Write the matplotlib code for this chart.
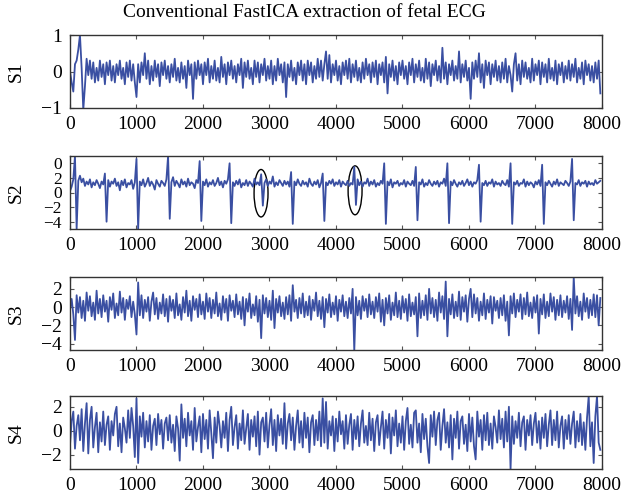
import numpy as np
import matplotlib
matplotlib.use('Agg')
import matplotlib.pyplot as plt
from matplotlib.patches import Ellipse

plt.rcParams['font.family'] = ['Liberation Serif', 'DejaVu Serif']
plt.rcParams['font.size'] = 14

title = 'Conventional FastICA extraction of fetal ECG'
labels = ['S1', 'S2', 'S3', 'S4']
step = 25  # samples between the values

s1 = [
    0.0, -0.3, -0.55, 0.2, 0.3, 0.6, 1.0, 0.1, -1.05, -0.4, 0.35, -0.1, 0.3, -0.2, 0.25, -0.3, 0.1, -0.25, 0.3, -0.15,
    0.2, -0.35, 0.25, -0.1, 0.3, -0.25, 0.15, -0.3, 0.2, -0.1, 0.3, -0.2, 0.1, -0.35, 0.25, -0.15, 0.3, -0.25, 0.2, -0.3,
    -0.7, 0.2, -0.3, 0.25, -0.1, 0.5, -0.2, 0.3, -0.35, 0.15, -0.25, 0.3, -0.15, 0.2, -0.4, 0.25, -0.1, 0.3, -0.2, 0.15,
    -0.3, 0.2, -0.15, 0.35, -0.25, 0.1, -0.3, 0.25, -0.2, 0.15, -0.45, 0.3, -0.1, 0.2, -0.75, 0.25, -0.2, 0.3, -0.1, 0.2,
    -0.35, 0.25, -0.1, 0.35, -0.3, 0.15, -0.2, 0.3, -0.25, 0.1, -0.3, 0.4, -0.15, 0.2, -0.35, 0.25, -0.1, 0.3, -0.2, 0.15,
    -0.3, 0.2, -0.1, 0.35, -0.45, 0.25, -0.15, 0.3, -0.2, 0.1, -0.35, 0.3, -0.15, 0.25, -0.3, 0.2, -0.1, 0.35, -0.25, 0.15,
    -0.2, 0.3, -0.35, 0.15, -0.25, 0.35, -0.1, 0.2, -0.3, 0.25, -0.7, 0.2, -0.15, 0.3, -0.25, 0.1, -0.35, 0.25, -0.1, 0.3,
    -0.25, 0.2, -0.35, 0.3, -0.1, 0.25, -0.3, 0.15, -0.2, 0.35, -0.15, 0.3, -0.25, 0.2, 0.55, -0.2, 0.45, -0.3, 0.2, -0.1,
    0.3, -0.25, 0.15, -0.35, 0.25, -0.1, 0.3, -0.2, 0.35, -0.3, 0.2, -0.15, 0.3, -0.25, 0.1, -0.3, 0.25, -0.2, 0.35, -0.1,
    0.2, -0.3, 0.25, -0.15, 0.3, -0.35, 0.2, -0.1, 0.25, -0.3, 0.4, -0.6, 0.2, -0.15, 0.3, -0.25, 0.15, -0.35, 0.25, -0.1,
    0.3, -0.2, 0.15, -0.35, 0.25, -0.1, 0.35, -0.3, 0.2, -0.15, 0.3, -0.25, 0.1, -0.3, 0.35, -0.2, 0.25, -0.4, 0.2, -0.1,
    0.3, -0.25, 0.15, -0.3, 0.65, -0.2, 0.25, -0.35, 0.2, -0.1, 0.3, -0.25, 0.15, -0.2, 0.55, -0.3, 0.2, -0.15, 0.3, -0.25,
    0.1, -0.75, 0.25, -0.2, 0.3, -0.15, 0.5, -0.3, 0.2, -0.45, 0.3, -0.1, 0.25, -0.35, 0.2, -0.15, 0.3, -0.25, 0.15, -0.3,
    0.25, -0.2, 0.35, -0.3, 0.15, -0.1, -0.55, 0.2, 0.5, -0.25, 0.2, -0.35, 0.3, -0.15, 0.25, -0.2, 0.1, -0.3, 0.35, -0.25,
    0.2, -0.1, 0.3, -0.35, 0.25, -0.15, 0.2, -0.3, 0.35, -0.2, 0.1, -0.25, 0.3, -0.35, 0.2, -0.1, 0.25, -0.3, 0.15, -0.2,
    0.3, -0.25, 0.2, -0.15, 0.35, -0.3, 0.1, -0.2, 0.25, -0.35, 0.3, -0.1, 0.2, -0.25, 0.15, -0.3, 0.25, -0.2, 0.3, -0.6,
]

s2 = [
    0.2, 0.8, 1.8, 5.0, -5.0, 1.6, 2.3, 1.4, 1.9, 0.9, 1.5, 1.1, 1.8, 0.7, 1.4, 1.0, 1.7, 1.2, 0.6, 1.5,
    1.1, 2.6, -4.0, 1.7, 0.8, 1.5, 1.2, 1.9, 0.9, 1.4, 0.3, 1.6, 1.0, 1.8, 0.7, 1.3, 1.1, 1.7, 0.5, 1.4,
    4.6, -5.0, 1.5, 1.0, 1.8, 0.8, 1.3, 2.0, 0.9, 1.5, 1.1, 0.4, 1.7, 1.2, 0.8, 1.6, 1.3, 0.9, 1.8, 5.0,
    -3.6, 1.4, 2.1, 0.9, 1.6, 1.2, 0.7, 1.8, 1.1, 1.5, 0.8, 1.9, 1.0, 1.4, 1.2, 0.6, 1.7, 1.3, 4.3, -3.9,
    1.5, 1.0, 1.8, 0.8, 1.4, 1.1, 1.7, 0.9, 1.3, 2.0, 1.0, 1.5, 0.7, 1.6, 1.2, 1.8, 4.0, -4.2, 1.4, 0.9,
    1.6, 1.1, 1.8, 0.7, 1.3, 1.0, 1.7, 0.9, 1.5, 1.2, 0.8, 1.9, 1.1, 1.4, 1.0, 2.5, -1.8, 1.3, 1.8, 0.9,
    1.5, 1.2, 2.2, 0.8, 1.4, 1.0, 1.7, 1.3, 0.9, 1.6, 1.1, 1.5, 0.8, 2.8, -4.3, 1.5, 1.0, 1.8, 1.2, 0.9,
    1.6, 1.1, 1.4, 0.8, 1.9, 1.2, 0.9, 1.5, 1.1, 1.7, 0.7, 1.3, 2.6, -3.9, 1.4, 1.0, 1.6, 1.2, 1.8, 0.9,
    1.4, 1.1, 1.7, 0.8, 1.5, 1.2, 1.0, 1.6, 0.9, 1.3, 1.1, 3.5, -1.7, 1.8, 1.0, 1.5, 0.8, 1.4, 1.2, 1.9,
    0.9, 1.5, 1.1, 1.7, 0.8, 1.3, 1.0, 1.6, 1.2, 4.0, -4.3, 1.5, 1.0, 1.8, 0.7, 1.4, 1.2, 1.6, 0.9, 1.3,
    1.1, 1.7, 0.8, 1.5, 1.2, 1.0, 1.6, 0.9, 3.5, -3.8, 1.4, 1.1, 1.8, 0.8, 1.3, 1.0, 1.7, 1.2, 0.9, 1.5,
    1.1, 1.6, 0.8, 1.4, 1.2, 1.9, 0.9, 4.0, -4.2, 1.5, 1.0, 1.7, 1.2, 0.8, 1.4, 1.1, 1.6, 0.9, 1.3, 1.8,
    1.0, 1.5, 0.8, 1.4, 1.2, 1.7, 3.8, -4.0, 1.3, 1.0, 1.6, 0.9, 1.4, 1.2, 1.8, 0.8, 1.5, 1.1, 1.3, 0.9,
    1.6, 1.2, 1.0, 1.7, 0.8, 4.0, -4.3, 1.4, 1.1, 1.6, 0.9, 1.3, 1.2, 1.8, 0.8, 1.5, 1.0, 1.4, 1.2, 0.7,
    1.5, 1.1, 1.7, 0.9, 3.8, -4.3, 1.4, 1.0, 1.6, 1.2, 0.8, 1.5, 1.1, 1.8, 0.9, 1.4, 1.2, 1.0, 1.6, 1.3,
    0.9, 1.5, 4.6, -3.8, 1.3, 1.1, 1.7, 0.9, 1.4, 1.2, 1.6, 0.8, 1.5, 1.1, 1.3, 1.0, 1.7, 1.2, 1.4, 1.6,
]

s3 = [
    -0.3, 0.9, -0.8, -3.6, 1.3, -0.6, 1.1, -1.2, 0.7, -1.5, 1.6, -0.4, 1.2, -1.0, 0.5, -1.4, 1.8, -0.7, 0.9, -1.1,
    1.3, -0.5, 0.7, -1.6, 1.1, -0.3, 1.5, -1.2, 0.4, -0.9, 1.7, -0.6, 1.0, -1.4, 0.8, -0.2, 1.2, -1.1, 0.6, -0.8,
    -3.0, 2.7, -0.9, 1.3, -1.2, 0.8, -0.5, 1.1, -1.5, 0.6, 1.6, -0.8, 1.0, -1.3, 0.5, -0.7, 1.4, -1.0, 0.9, -1.6,
    1.2, -0.4, 0.8, -1.2, 1.5, -0.9, 0.3, -1.4, 1.1, -0.6, 1.8, -1.0, 0.7, -1.5, 1.2, -0.3, 0.9, -1.1, 1.4, -0.8,
    0.6, -1.3, 1.5, -0.5, 1.0, -1.2, 0.8, -0.7, 1.6, -1.0, 0.4, -1.4, 1.2, -0.6, 0.9, -1.5, 1.3, -0.4, 0.7, -1.1,
    1.4, -0.8, 0.6, -1.3, 1.1, -2.0, 0.9, -0.5, 1.5, -1.2, 0.3, -0.9, 1.2, -1.6, 0.8, -3.4, 1.3, -0.7, 1.0, -1.1,
    0.7, -1.4, 1.8, -2.3, 0.9, -0.6, 1.2, -1.0, 0.5, -1.3, 1.1, -0.8, 1.3, -1.5, 2.4, -0.5, 0.8, -1.2, 1.0, -0.7,
    1.5, -1.1, 0.6, -0.9, 1.2, -1.4, 0.8, -0.4, 1.6, -1.0, 0.7, -1.3, 1.1, -2.2, 0.9, -0.6, 1.4, -1.1, 0.5, -0.8,
    1.2, -1.5, 0.8, -0.5, 1.3, -1.0, 0.6, -1.2, 1.0, -0.7, 2.0, -4.8, 1.1, -0.9, 0.7, -1.3, 1.2, -0.4, 0.9, -1.1,
    1.4, -0.8, 0.6, -1.2, 1.1, -0.5, 1.5, -1.6, 0.8, -2.0, 1.0, -0.7, 1.3, -1.4, 0.5, -0.9, 1.6, -1.1, 0.7, -1.3,
    1.2, -0.6, 0.9, -1.5, 1.4, -1.0, 0.5, -0.8, 1.1, -3.2, 1.5, -1.2, 0.7, -0.9, 1.3, -1.4, 2.0, -0.7, 1.0, -1.1,
    0.8, -1.5, 1.6, -0.6, 1.2, -1.3, 2.8, -3.2, 0.9, -0.8, 1.4, -1.2, 0.6, -1.0, 1.7, -1.4, 1.1, -0.5, 1.3, -1.6,
    0.9, 2.0, -1.1, 1.4, -0.7, 1.0, -1.5, 0.6, -0.9, 1.5, -1.3, 0.8, -0.6, 1.2, -1.8, 1.1, -0.4, 0.7, -1.2, 1.0,
    -0.9, 1.3, -1.5, 0.6, -3.1, 1.2, -0.7, 1.5, -1.1, 0.8, -0.5, 1.4, -1.3, 1.0, -0.8, 1.6, -1.0, 0.5, -1.2, 1.1,
    -0.6, 1.3, -2.9, 0.9, -0.8, 1.4, -1.2, 0.6, -1.0, 1.5, -0.5, 1.1, -1.4, 0.8, -0.9, 1.3, -1.1, 0.7, -0.6, 1.2,
    -1.3, 0.9, -2.5, 3.3, -0.7, 1.2, -1.0, 0.6, -1.4, 1.5, -0.5, 1.0, -1.2, 0.8, -0.9, 1.4, -1.1, 1.3, -2.0, 1.0,
]

s4 = [
    -1.2, 0.8, 1.6, -1.5, 0.4, 1.3, -0.8, 1.8, -1.7, 0.6, 2.3, -1.9, 0.9, 2.0, -1.4, 0.3, 1.5, -1.8, 0.7, -0.9,
    1.6, -1.2, 0.5, 1.2, -1.6, 0.8, -0.4, 1.4, 2.0, -1.3, 0.6, -1.8, 1.1, 0.2, -1.0, 1.7, -0.6, 1.9, 0.4, -2.2,
    2.7, -2.7, 1.2, -0.5, 1.5, -1.4, 0.8, -0.9, 1.3, -1.6, 0.4, 1.0, -1.2, 1.4, -0.3, 0.9, -1.5, 0.6, 1.1, -0.8,
    1.3, -1.0, 0.5, -1.7, 1.2, 0.2, -2.5, 2.2, -0.6, 1.0, -1.3, 1.5, -0.4, 0.8, -1.6, 1.9, -0.9, 0.3, 1.2, -1.8,
    1.4, -0.7, 0.9, -1.5, 1.7, -0.2, -2.3, 1.1, -1.0, 1.6, 0.4, -1.4, 0.8, -0.6, 1.5, -1.7, 0.9, 2.0, -1.2, 0.3,
    1.3, -1.5, 0.6, -0.8, 1.7, -1.1, 0.2, 1.4, -1.6, 0.9, -0.5, 1.2, -1.3, 1.6, -2.0, 0.7, 1.1, -0.9, 1.5, -1.4,
    0.5, 1.8, -1.2, 0.9, -1.7, 1.3, -0.4, 1.0, -1.1, 2.3, -1.5, 0.6, 1.4, -0.8, 1.1, -1.6, 0.4, 1.7, -1.0, 0.8,
    -1.4, 1.5, -0.6, 1.1, -1.8, 0.7, 1.3, -1.2, 0.9, -0.8, 1.6, -1.3, 2.7, -1.0, 2.4, -1.5, 0.8, -0.4, 1.2, -1.7,
    1.0, -0.9, 1.6, -0.3, 0.8, -1.5, 1.3, -1.1, 0.5, 1.4, -1.6, 0.9, -0.7, 1.2, -1.3, 0.6, 1.7, -1.0, 0.4, -1.2,
    1.5, -0.8, 1.0, -1.7, 0.7, 1.3, -1.2, 0.3, 1.6, -1.5, 0.9, -0.6, 1.4, -1.9, 1.1, -0.4, 1.7, -1.3, 0.6, -1.0,
    1.2, -1.6, 0.8, 1.9, -1.1, 0.5, -1.4, 1.5, 1.7, -1.0, 0.6, -1.8, 1.4, -0.7, 1.0, -1.3, -2.7, 1.3, -0.5, 1.6,
    -1.2, 0.9, 1.5, -1.6, 0.4, 1.8, -1.0, 0.7, -1.4, 1.3, -2.4, 1.0, -0.6, 1.6, -1.5, 0.8, 1.2, -1.1, 0.5, -1.7,
    1.4, -0.9, 1.1, -1.3, -2.4, 1.6, -0.5, 0.9, -1.6, 1.3, -0.8, 1.5, -1.2, 0.6, -1.5, 1.2, 0.3, -1.0, 1.7, -0.7,
    1.0, -1.4, 1.6, -0.9, 2.0, -3.2, 1.2, -1.1, 0.8, -0.6, 1.5, -1.3, 0.7, 1.2, -1.6, 0.9, -0.4, 1.3, -1.2, 0.6,
    1.5, -1.0, 0.8, -1.5, 1.1, -0.6, 1.4, -1.3, 0.5, 1.7, -1.2, 0.9, -0.8, 1.6, -1.4, 0.4, 1.2, -1.5, 0.9, -0.7,
    1.3, -1.1, 0.6, 1.6, -1.4, 0.8, -0.9, 1.4, -1.2, 0.7, -1.6, 1.1, 2.9, -1.3, 0.7, -2.7, 1.2, 2.9, -1.0, -1.6,
]

ylims = [(-1.0, 1.0), (-5.0, 5.0), (-4.7, 3.3), (-3.2, 2.9)]
yticks = [[-1, 0, 1], [-4, -2, 0, 2, 4], [-4, -2, 0, 2], [-2, 0, 2]]
ytick_labels = [None, ['\u22124', '\u22122', '0', '2', '0'], None, None]

# circled fetal beats in S2: centre x, centre y, width, height
ell_x = [2873, 4287]
ell_y = [-0.1, 0.3]
ell_w = [210, 210]
ell_h = [6.5, 6.7]

line_color = '#3a4fa2'
fig = plt.figure(figsize=(6.21, 5.0), dpi=100)
bottoms = [0.784, 0.542, 0.300, 0.062]

for i, s in enumerate([s1, s2, s3, s4]):
    ax = fig.add_axes([0.1127, bottoms[i], 0.8567, 0.146])
    x = np.arange(len(s)) * step
    ax.plot(x, s, color=line_color, lw=1.3)
    ax.set_xlim(0, 8000)
    ax.set_ylim(*ylims[i])
    ax.set_xticks(range(0, 8001, 1000))
    ax.set_yticks(yticks[i])
    if ytick_labels[i] is not None:
        ax.set_yticklabels(ytick_labels[i])
    ax.tick_params(direction='in', top=True, right=True, length=3, width=0.8,
                   color='#555555', labelsize=14, pad=6)
    if i == 1:
        # five labels squeezed into a short axis
        ax.tick_params(axis='y', labelsize=12.5)
    for sp in ax.spines.values():
        sp.set_color('#333333')
        sp.set_linewidth(1.0)
    ax.set_ylabel(labels[i], fontsize=14)
    ax.yaxis.set_label_coords(-0.085, 0.5)
    if i == 1:
        for cx, cy, w, h in zip(ell_x, ell_y, ell_w, ell_h):
            ax.add_patch(Ellipse((cx, cy), w, h, fill=False, edgecolor='black', lw=1.0))

fig.text(0.49, 0.975, title, ha='center', va='center', fontsize=14)
fig.savefig('out.png', dpi=100)
